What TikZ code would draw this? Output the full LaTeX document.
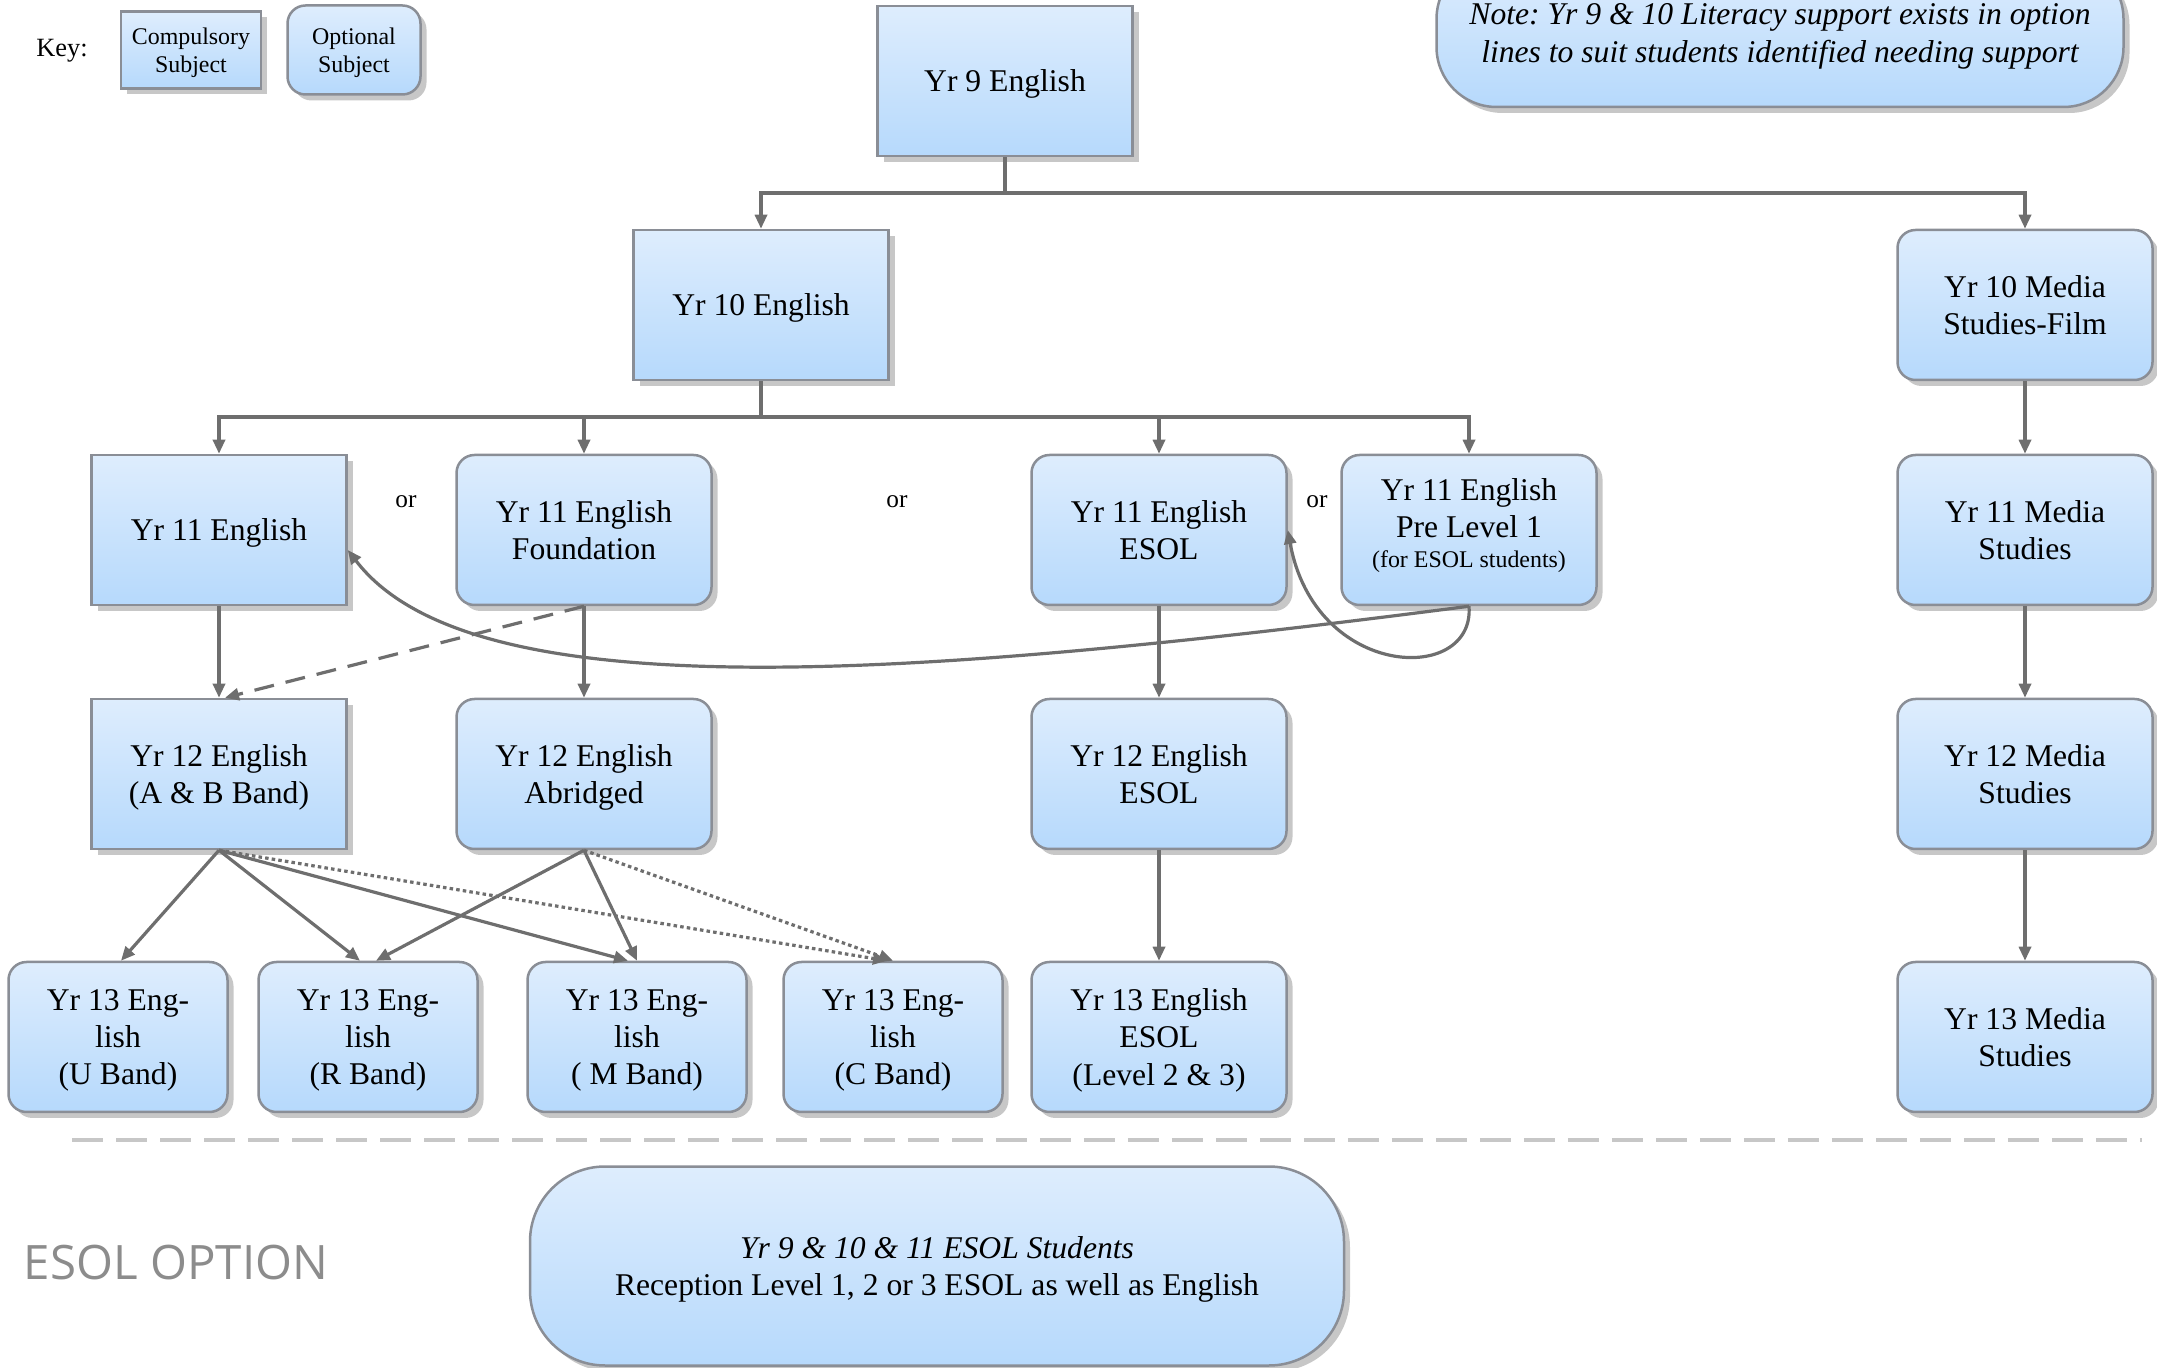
\documentclass[tikz,border=0pt]{standalone}
\usepackage{fontspec}
\setmainfont{Liberation Serif}
\newfontfamily\labelfont{Open Sans}
\usetikzlibrary{arrows.meta,shadows}
\definecolor{boxtop}{RGB}{222,237,253}
\definecolor{boxbot}{RGB}{182,217,252}
\definecolor{boxline}{RGB}{138,142,150}
\definecolor{wire}{RGB}{110,110,110}
\newcommand{\boxfont}{\fontsize{9}{10.6}\selectfont}
\newcommand{\keyfont}{\fontsize{6.8}{7.9}\selectfont}

\begin{document}
\begin{tikzpicture}[x=0.1mm, y=-0.1mm, font=\boxfont,
	box/.style = {draw=boxline, line width=0.25mm, top color=boxtop, bottom color=boxbot, align=center, inner sep=0pt,
		minimum width=25.5mm, minimum height=15mm, text depth=0pt,
		drop shadow={shadow xshift=0.6mm, shadow yshift=-0.6mm, fill=black!22, opacity=1}},
	comp/.style = {box},
	opt/.style = {box, rounded corners=1.8mm},
	wireline/.style = {draw=wire, line width=0.32mm},
	arr/.style = {wireline, -{Triangle[length=1.4mm, width=1.2mm]}},
	smalltext/.style = {font=\keyfont}]
	\useasboundingbox (0,0) rectangle (2157,1368);
	% key
	\node[font=\fontsize{7.5}{9}\selectfont] (key) at (62,51) {Key:};
	\node[comp, smalltext, minimum width=14mm, minimum height=7.7mm] (kc) at (191,50) {Compulsory\\Subject};
	\node[opt, smalltext, minimum width=13.3mm, minimum height=8.9mm] (ko) at (354,50) {Optional\\Subject};
	\node[opt, rounded corners=6mm, minimum width=68.7mm, minimum height=14.8mm, font=\boxfont\itshape] (note) at (1780,33)
		{Note:\ Yr 9 \& 10 Literacy support exists in option\\lines to suit students identified needing support};
	% english
	\node[comp] (y9) at (1005,81) {Yr 9 English};
	\node[comp] (y10) at (761,305) {Yr 10 English};
	\node[comp] (e11) at (219,530) {Yr 11 English};
	\node[opt] (f11) at (584,530) {Yr 11 English\\Foundation};
	\node[opt] (s11) at (1159,530) {Yr 11 English\\ESOL};
	\node[opt, text depth=1.4mm] (p11) at (1469,530) {Yr 11 English\\Pre Level 1\\[-0.7mm]{\keyfont (for ESOL students)}};
	\node[comp] (e12) at (219,774) {Yr 12 English\\(A \& B Band)};
	\node[opt] (a12) at (584,774) {Yr 12 English\\Abridged};
	\node[opt] (s12) at (1159,774) {Yr 12 English\\ESOL};
	\node[opt, minimum width=21.9mm] (u13) at (118,1037) {Yr 13 Eng-\\lish\\(U Band)};
	\node[opt, minimum width=21.9mm] (r13) at (368,1037) {Yr 13 Eng-\\lish\\(R Band)};
	\node[opt, minimum width=21.9mm] (m13) at (637,1037) {Yr 13 Eng-\\lish\\( M Band)};
	\node[opt, minimum width=21.9mm] (c13) at (893,1037) {Yr 13 Eng-\\lish\\(C Band)};
	\node[opt] (s13) at (1159,1037) {Yr 13 English\\ESOL\\(Level 2 \& 3)};
	% media
	\node[opt] (m10) at (2025,305) {Yr 10 Media\\Studies-Film};
	\node[opt] (m11) at (2025,530) {Yr 11 Media\\Studies};
	\node[opt] (m12) at (2025,774) {Yr 12 Media\\Studies};
	\node[opt] (md13) at (2025,1037) {Yr 13 Media\\Studies};
	% or
	\node[font=\fontsize{7.2}{8}\selectfont] (or1) at (406,502) {or};
	\node[font=\fontsize{7.2}{8}\selectfont] (or2) at (897,502) {or};
	\node[font=\fontsize{7.2}{8}\selectfont] (or3) at (1317,502) {or};
	% esol option
	\draw[draw=black!22, line width=0.4mm, dash pattern=on 3.1mm off 1.3mm] (72,1140) -- (2142,1140);
	\node[font=\labelfont\fontsize{13.5}{16}\selectfont, text=black!45] (eo) at (176,1263) {ESOL OPTION};
	\node[opt, rounded corners=7.5mm, minimum width=81.4mm, minimum height=19.9mm] (esol) at (937,1266)
		{{\itshape Yr 9 \& 10 \& 11 ESOL Students}\\Reception Level 1, 2 or 3 ESOL as well as English};
	% connectors
	\coordinate (j9) at (1005,193);
	\coordinate (j10) at (761,417);
	\draw[wireline] (y9) -- (j9);
	\draw[arr] (j9) -| (y10);
	\draw[arr] (j9) -| (m10);
	\draw[wireline] (y10) -- (j10);
	\foreach \n in {e11,f11,s11,p11}
		\draw[arr] (j10) -| (\n);
	\draw[arr] (e11) -- (e12);
	\draw[arr] (f11) -- (a12);
	\draw[arr, dash pattern=on 2mm off 1.2mm] (f11.south) -- ([xshift=0.6mm]e12.north);
	\draw[arr] (s11) -- (s12);
	\draw[arr] (s12) -- (s13);
	\draw[arr] (m10) -- (m11);
	\draw[arr] (m11) -- (m12);
	\draw[arr] (m12) -- (md13);
	\draw[arr] (e12.south) -- ([xshift=0.3mm]u13.north);
	\draw[arr] (e12.south) -- ([xshift=-0.8mm]r13.north);
	\draw[arr] (e12.south) -- ([xshift=-0.9mm]m13.north);
	\draw[arr, dash pattern=on 1pt off 0.9pt] (e12.south) -- ([xshift=-0.6mm]c13.north);
	\draw[arr] (a12.south) -- ([xshift=0.8mm]r13.north);
	\draw[arr] (a12.south) -- (m13.north);
	\draw[arr, dash pattern=on 1pt off 0.9pt] (a12.south) -- (c13.north);
	\draw[arr] (p11.south) .. controls (900,680) and (470,710) .. ([yshift=-2mm]e11.east);
	\draw[arr] (p11.south) .. controls (1475,685) and (1315,680) .. (s11.east);
\end{tikzpicture}
\end{document}
